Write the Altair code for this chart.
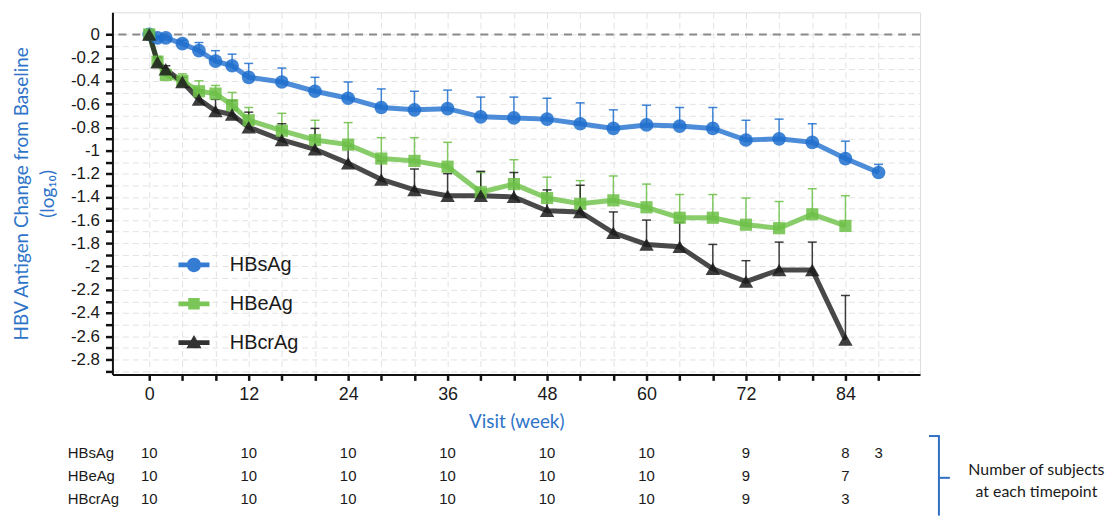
import altair as alt
import pandas as pd

# ---------------- data ----------------
series_names = ["HBsAg", "HBeAg", "HBcrAg"]
series_colors = ["#1f6fce", "#6cc046", "#1c1c1c"]

weeks_s = [0, 1, 2, 4, 6, 8, 10, 12, 16, 20, 24, 28, 32, 36, 40, 44, 48, 52, 56, 60, 64, 68, 72, 76, 80, 84, 88]
hbsag_mean = [0, -0.03, -0.03, -0.08, -0.14, -0.23, -0.27, -0.37, -0.41, -0.49, -0.55, -0.63, -0.65, -0.64,
              -0.71, -0.72, -0.73, -0.77, -0.81, -0.78, -0.79, -0.81, -0.91, -0.90, -0.93, -1.07, -1.19]
hbsag_upper = [0, -0.02, -0.015, -0.05, -0.07, -0.14, -0.17, -0.25, -0.29, -0.37, -0.41, -0.47, -0.49, -0.48,
               -0.54, -0.54, -0.55, -0.59, -0.65, -0.61, -0.63, -0.63, -0.74, -0.73, -0.77, -0.92, -1.12]

weeks_e = [0, 1, 2, 4, 6, 8, 10, 12, 16, 20, 24, 28, 32, 36, 40, 44, 48, 52, 56, 60, 64, 68, 72, 76, 80, 84]
hbeag_mean = [0, -0.235, -0.35, -0.40, -0.49, -0.51, -0.61, -0.74, -0.83, -0.91, -0.95, -1.07, -1.09, -1.14,
              -1.36, -1.29, -1.41, -1.46, -1.43, -1.49, -1.58, -1.58, -1.64, -1.67, -1.55, -1.65]
hbeag_upper = [0, -0.19, -0.30, -0.34, -0.40, -0.44, -0.50, -0.63, -0.68, -0.74, -0.76, -0.89, -0.89, -0.93,
               -1.19, -1.08, -1.23, -1.26, -1.22, -1.29, -1.38, -1.38, -1.41, -1.44, -1.33, -1.39]

weeks_c = [0, 1, 2, 4, 6, 8, 10, 12, 16, 20, 24, 28, 32, 36, 40, 44, 48, 52, 56, 60, 64, 68, 72, 76, 80, 84]
hbcrag_mean = [0, -0.24, -0.30, -0.41, -0.56, -0.66, -0.69, -0.80, -0.91, -0.99, -1.11, -1.25, -1.34, -1.39,
               -1.39, -1.40, -1.52, -1.53, -1.71, -1.81, -1.83, -2.02, -2.13, -2.03, -2.03, -2.63]
hbcrag_upper = [0, -0.20, -0.27, -0.37, -0.48, -0.56, -0.57, -0.67, -0.77, -0.81, -0.96, -1.09, -1.16, -1.20,
                -1.18, -1.19, -1.34, -1.30, -1.53, -1.60, -1.62, -1.81, -1.95, -1.79, -1.79, -2.25]

count_weeks = [0, 12, 24, 36, 48, 60, 72, 84, 88]
hbsag_n = [10, 10, 10, 10, 10, 10, 9, 8, 3]
hbeag_n = [10, 10, 10, 10, 10, 10, 9, 7]
hbcrag_n = [10, 10, 10, 10, 10, 10, 9, 3]

x_tick_values = list(range(0, 89, 4))
y_tick_values = [round(-2.9 + 0.1 * i, 1) for i in range(30)]

# ---------------- tables ----------------
rows = []
for name, wk, mean, up in [("HBsAg", weeks_s, hbsag_mean, hbsag_upper),
                           ("HBeAg", weeks_e, hbeag_mean, hbeag_upper),
                           ("HBcrAg", weeks_c, hbcrag_mean, hbcrag_upper)]:
    for w, m, u in zip(wk, mean, up):
        rows.append({"week": w, "value": m, "upper": u, "series": name})
df = pd.DataFrame(rows)

nrows = []
for name, ns in [("HBsAg", hbsag_n), ("HBeAg", hbeag_n), ("HBcrAg", hbcrag_n)]:
    for w, n in zip(count_weeks, ns):
        nrows.append({"week": w, "n": str(n), "row": name})
ndf = pd.DataFrame(nrows)
rowdf = pd.DataFrame({"row": series_names})
one_df = pd.DataFrame({"k": [0]})
zero_df = pd.DataFrame({"value": [0]})

BLUE_TXT = "#2e74c8"

x_scale = alt.Scale(domain=[-4.44, 93], nice=False, zero=False)
y_scale = alt.Scale(domain=[-2.93, 0.19], nice=False, zero=False)
# data-driven (alphabetical) domain: HBcrAg, HBeAg, HBsAg
color_scale = alt.Scale(range=[series_colors[2], series_colors[1], series_colors[0]])

x_axis = alt.Axis(
    title="Visit (week)", values=x_tick_values,
    labelExpr="datum.value % 12 == 0 ? datum.label : ''",
    labelOverlap=False, grid=True, gridDash=[6, 4], gridColor="#e2e2e2", gridWidth=1,
    domainColor="#111111", domainWidth=2, tickColor="#111111", tickWidth=2.5, tickSize=6,
    labelPadding=5, labelFont="Liberation Sans", labelFontSize=18, labelColor="#1a1a1a",
    titleFont="Lato", titleFontSize=19, titleColor=BLUE_TXT, titleFontWeight="normal",
    titlePadding=9,
)
y_axis = alt.Axis(
    title=["HBV Antigen Change from Baseline", "(log\u2081\u2080)"], values=y_tick_values,
    labelExpr="round(datum.value*10) % 2 == 0 ? toString(round(datum.value*10)/10) : ''",
    labelOverlap=False, grid=True, gridDash=[6, 4], gridColor="#e2e2e2", gridWidth=1,
    domainColor="#111111", domainWidth=2, tickColor="#111111", tickWidth=2.5, tickSize=7,
    labelPadding=6, labelFont="Liberation Sans", labelFontSize=17, labelColor="#1a1a1a",
    titleFont="Lato", titleFontSize=19, titleColor=BLUE_TXT, titleFontWeight="normal",
    titleLineHeight=26, titlePadding=13,
)

X = alt.X("week:Q", scale=x_scale, axis=x_axis)
COLOR = alt.Color("series:N", scale=color_scale, legend=None)

def Y(field):
    return alt.Y(f"{field}:Q", scale=y_scale, axis=y_axis)

zero_line = alt.Chart(zero_df).mark_rule(strokeDash=[8, 6], color="#8a8a8a", strokeWidth=2).encode(y=Y("value"))

err_rule = alt.Chart(df).mark_rule(strokeWidth=1.5, opacity=0.85).encode(
    x=X, y=Y("value"), y2="upper:Q", color=COLOR)
err_cap = alt.Chart(df).mark_tick(orient="horizontal", size=9, thickness=1.5, opacity=0.85).encode(
    x=X, y=Y("upper"), color=COLOR)

lines = alt.Chart(df).mark_line(strokeWidth=5, opacity=0.8).encode(
    x=X, y=Y("value"), color=COLOR, order="week:Q")

marker_shapes = {"HBsAg": ("circle", 190), "HBeAg": ("square", 150), "HBcrAg": ("triangle-up", 210)}
point_layers = []
for name in series_names:
    shp, sz = marker_shapes[name]
    point_layers.append(
        alt.Chart(df).transform_filter(alt.datum.series == name)
        .mark_point(shape=shp, filled=True, size=sz, opacity=0.85)
        .encode(x=X, y=Y("value"), color=COLOR)
    )

# legend (line + marker symbols) drawn from the series scale domain
bar = "M-1.95,-0.3 L1.95,-0.3 L1.95,0.3 L-1.95,0.3 Z "
legend_paths = [
    bar + "M-0.9,0 A0.9,0.9 0 1,1 0.9,0 A0.9,0.9 0 1,1 -0.9,0 Z",
    bar + "M-0.72,-0.72 L0.72,-0.72 L0.72,0.72 L-0.72,0.72 Z",
    bar + "M0,-0.95 L0.95,0.7 L-0.95,0.7 Z",
]
leg = alt.Legend(
    title=None, orient="none", legendX=72, legendY=244, padding=0,
    labelFont="Liberation Sans", labelFontSize=20, labelColor="#1a1a1a",
    symbolSize=256, symbolStrokeWidth=0, labelOffset=26, rowPadding=19, symbolOpacity=0.9,
)
legend_layer = alt.Chart(df).transform_filter(alt.datum.week == 0).mark_point(filled=True, size=0, opacity=0).encode(
    x=X, y=Y("value"),
    shape=alt.Shape("series:N", scale=alt.Scale(domain=series_names, range=legend_paths), legend=leg),
    fill=alt.Fill("series:N", scale=alt.Scale(domain=series_names, range=series_colors), legend=leg),
)

main = alt.layer(zero_line, err_rule, err_cap, lines, *point_layers, legend_layer)

# ---------------- subject-count table ----------------
row_scale = alt.Scale(type="point", domain=series_names, range=[443, 489], padding=0)
ROWY = alt.Y("row:N", scale=row_scale, axis=None)

counts = alt.Chart(ndf).mark_text(font="Liberation Sans", fontSize=15, color="#1a1a1a", clip=False).encode(
    x=X, y=ROWY, text="n:N")
row_labels = alt.Chart(rowdf).mark_text(font="Liberation Sans", fontSize=15, color="#1a1a1a",
                                         align="left", clip=False).encode(
    x=alt.value(-45), y=ROWY, text="row:N")

brk_v = alt.Chart(one_df).mark_rule(color="#2f6fc4", strokeWidth=2).encode(
    x=alt.value(831), y=alt.value(426), y2=alt.value(506))
brk_top = alt.Chart(one_df).mark_rule(color="#2f6fc4", strokeWidth=2).encode(
    x=alt.value(821), x2=alt.value(832), y=alt.value(426))
brk_mid = alt.Chart(one_df).mark_rule(color="#2f6fc4", strokeWidth=2).encode(
    x=alt.value(831), x2=alt.value(842), y=alt.value(468))
note1 = alt.Chart(one_df).mark_text(text="Number of subjects", font="Lato", fontSize=16,
                                    color="#1a1a1a").encode(x=alt.value(929), y=alt.value(460))
note2 = alt.Chart(one_df).mark_text(text="at each timepoint", font="Lato", fontSize=16,
                                    color="#1a1a1a").encode(x=alt.value(929), y=alt.value(482))

table = alt.layer(counts, row_labels, brk_v, brk_top, brk_mid, note1, note2)

chart = (
    alt.layer(main, table)
    .resolve_scale(y="independent")
    .properties(
        width=812, height=364,
        padding={"left": 105, "top": 3, "right": 188, "bottom": 142},
        autosize=alt.AutoSizeParams(type="none"),
    )
    .configure_view(stroke="#333333", strokeWidth=2)
    .configure(background="white")
)

chart.save("out.html", embed_options={"renderer": "svg", "actions": False})
